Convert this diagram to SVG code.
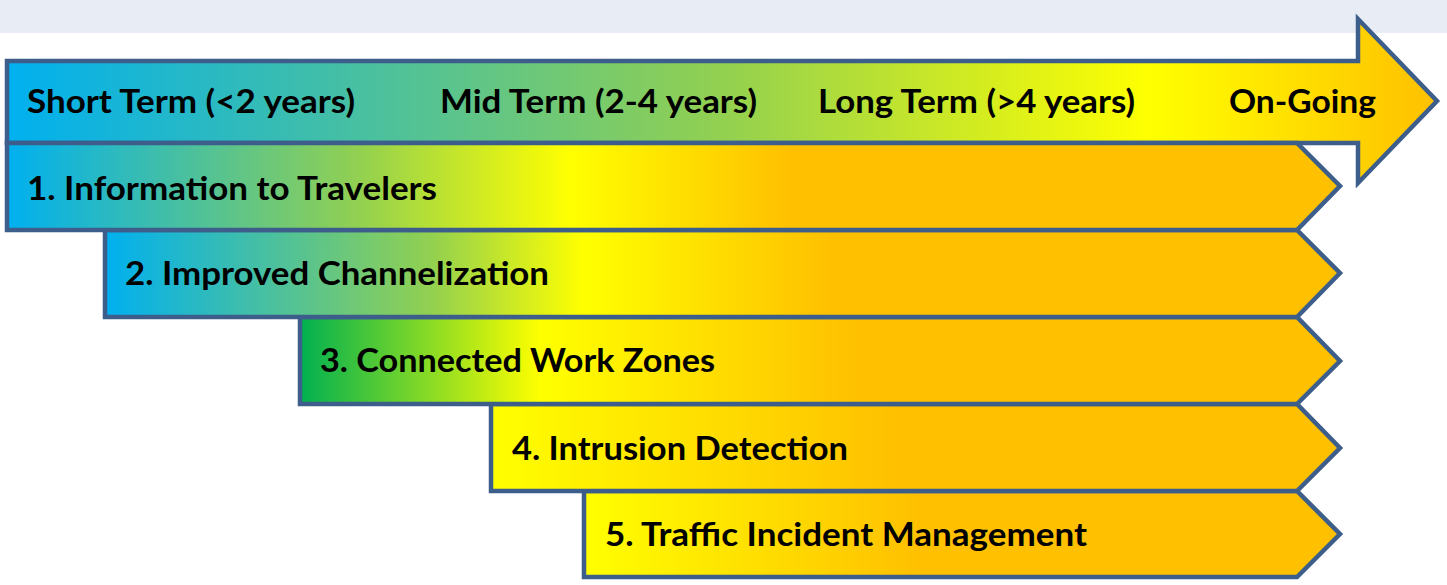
<svg xmlns="http://www.w3.org/2000/svg" width="1447" height="585" viewBox="0 0 1447 585">
<defs>
<linearGradient id="gMain" gradientUnits="userSpaceOnUse" x1="7" y1="0" x2="1437" y2="0">
<stop offset="0" stop-color="#00B0F0"/>
<stop offset="0.5" stop-color="#92D050"/>
<stop offset="0.8" stop-color="#FFFF00"/>
<stop offset="1" stop-color="#FFC000"/>
</linearGradient>
<linearGradient id="g1" gradientUnits="userSpaceOnUse" x1="7" y1="0" x2="790" y2="0">
<stop offset="0" stop-color="#00B0F0"/>
<stop offset="0.45" stop-color="#92D050"/>
<stop offset="0.72" stop-color="#FFFF00"/>
<stop offset="1" stop-color="#FFC000"/>
</linearGradient>
<linearGradient id="g2" gradientUnits="userSpaceOnUse" x1="105" y1="0" x2="830" y2="0">
<stop offset="0" stop-color="#00B0F0"/>
<stop offset="0.45" stop-color="#92D050"/>
<stop offset="0.66" stop-color="#FFFF00"/>
<stop offset="1" stop-color="#FFC000"/>
</linearGradient>
<linearGradient id="g3" gradientUnits="userSpaceOnUse" x1="300" y1="0" x2="860" y2="0">
<stop offset="0" stop-color="#00B050"/>
<stop offset="0.43" stop-color="#FFFF00"/>
<stop offset="1" stop-color="#FFC000"/>
</linearGradient>
<linearGradient id="g4" gradientUnits="userSpaceOnUse" x1="490" y1="0" x2="900" y2="0">
<stop offset="0" stop-color="#FFFF00"/>
<stop offset="1" stop-color="#FFC000"/>
</linearGradient>
<linearGradient id="g5" gradientUnits="userSpaceOnUse" x1="584" y1="0" x2="920" y2="0">
<stop offset="0" stop-color="#FFFF00"/>
<stop offset="1" stop-color="#FFC000"/>
</linearGradient>
</defs>
<style>
.shape { stroke: #3D5E8A; stroke-width: 4.5; stroke-linejoin: miter; }
.lbl { font-family: Lato, "Open Sans", "Liberation Sans", sans-serif; font-weight: bold; font-size: 32px; fill: #000; }
</style>
<rect x="0" y="0" width="1447" height="33" fill="#E8ECF4"/>
<g id="timeline">
<polygon class="shape" fill="url(#gMain)" points="7,61 1358,61 1358,19 1437,101 1358,183 1358,143 7,143"/>
<text class="lbl" x="27" y="113" textLength="328" lengthAdjust="spacingAndGlyphs">Short Term (&lt;2 years)</text>
<text class="lbl" x="440" y="113" textLength="317" lengthAdjust="spacingAndGlyphs">Mid Term (2-4 years)</text>
<text class="lbl" x="818" y="113" textLength="317" lengthAdjust="spacingAndGlyphs">Long Term (&gt;4 years)</text>
<text class="lbl" x="1229" y="113" textLength="147" lengthAdjust="spacingAndGlyphs">On-Going</text>
</g>
<g id="bar5">
<polygon class="shape" fill="url(#g5)" points="584,491 1297,491 1340,534 1297,577 584,577"/>
<text class="lbl" x="605" y="546" textLength="482" lengthAdjust="spacingAndGlyphs">5. Traffic Incident Management</text>
</g>
<g id="bar4">
<polygon class="shape" fill="url(#g4)" points="491,404 1297,404 1340,448 1297,491 491,491"/>
<text class="lbl" x="512" y="460" textLength="336" lengthAdjust="spacingAndGlyphs">4. Intrusion Detection</text>
</g>
<g id="bar3">
<polygon class="shape" fill="url(#g3)" points="300,317 1297,317 1340,361 1297,404 300,404"/>
<text class="lbl" x="320" y="372" textLength="395" lengthAdjust="spacingAndGlyphs">3. Connected Work Zones</text>
</g>
<g id="bar2">
<polygon class="shape" fill="url(#g2)" points="105,230 1297,230 1340,273 1297,317 105,317"/>
<text class="lbl" x="125" y="285" textLength="424" lengthAdjust="spacingAndGlyphs">2. Improved Channelization</text>
</g>
<g id="bar1">
<polygon class="shape" fill="url(#g1)" points="7,143 1297,143 1340,186 1297,230 7,230"/>
<text class="lbl" x="27" y="200" textLength="410" lengthAdjust="spacingAndGlyphs">1. Information to Travelers</text>
</g>
<g id="connectors"/>
</svg>
